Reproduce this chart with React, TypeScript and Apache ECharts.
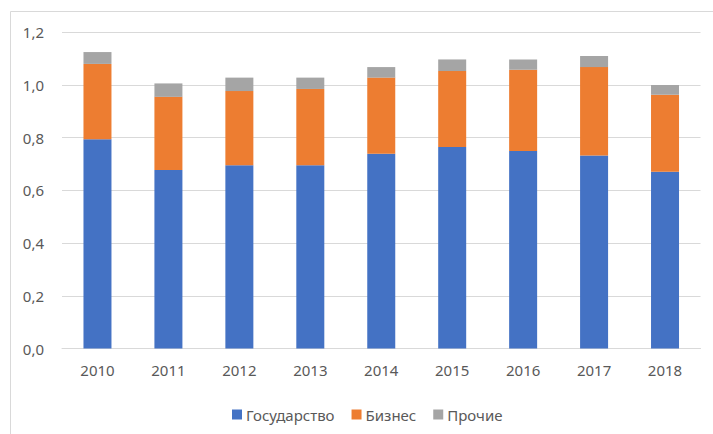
import React, { useEffect, useRef } from "react";
import * as echarts from "echarts";

const years = ["2010", "2011", "2012", "2013", "2014", "2015", "2016", "2017", "2018"];
const government = [0.794, 0.677, 0.695, 0.695, 0.739, 0.765, 0.75, 0.732, 0.671];
const business = [0.286, 0.278, 0.282, 0.29, 0.289, 0.288, 0.308, 0.336, 0.292];
const other = [0.045, 0.051, 0.051, 0.043, 0.04, 0.044, 0.039, 0.042, 0.037];
const seriesNames = ["Государство", "Бизнес", "Прочие"];

const FONT = "'Noto Sans', 'Open Sans', sans-serif";
const TEXT = "#595959";

export default function App() {
  const ref = useRef<HTMLDivElement>(null);
  useEffect(() => {
    if (!ref.current) return;
    const chart = echarts.init(ref.current, undefined, { renderer: "svg" });
    const mk = (name: string, data: number[], color: string) => ({
      name,
      type: "bar",
      stack: "total",
      data,
      barWidth: 28,
      itemStyle: { color },
    });
    chart.setOption({
      animation: false,
      backgroundColor: "#ffffff",
      graphic: [
        {
          type: "rect",
          shape: { x: 10.5, y: 11.5, width: 800, height: 600 },
          style: { fill: "none", stroke: "#D9D9D9", lineWidth: 1 },
          silent: true,
        },
      ],
      grid: { left: 62, right: 12.5, top: 32.3, bottom: 85.5, containLabel: false },
      legend: {
        data: seriesNames,
        left: 227,
        top: 402,
        icon: "rect",
        itemWidth: 10,
        itemHeight: 10,
        itemGap: 17,
        textStyle: { color: TEXT, fontSize: 15, fontFamily: FONT, padding: [0, 0, 0, -1] },
      },
      xAxis: {
        type: "category",
        data: years,
        axisLine: { lineStyle: { color: "#D9D9D9", width: 1 } },
        axisTick: { show: false },
        axisLabel: { color: TEXT, fontSize: 15, fontFamily: FONT, margin: 14 },
      },
      yAxis: {
        type: "value",
        min: 0,
        max: 1.2,
        interval: 0.2,
        axisLine: { show: false },
        axisTick: { show: false },
        splitLine: { lineStyle: { color: "#D9D9D9", width: 1 } },
        axisLabel: {
          color: TEXT,
          fontSize: 15,
          fontFamily: FONT,
          margin: 18,
          formatter: (v: number) => v.toFixed(1).replace(".", ","),
        },
      },
      series: [
        mk(seriesNames[0], government, "#4472C4"),
        mk(seriesNames[1], business, "#ED7D31"),
        mk(seriesNames[2], other, "#A5A5A5"),
      ],
    });
    return () => chart.dispose();
  }, []);
  return <div ref={ref} style={{ width: 713, height: 434, position: "absolute", left: 0, top: 0 }} />;
}
